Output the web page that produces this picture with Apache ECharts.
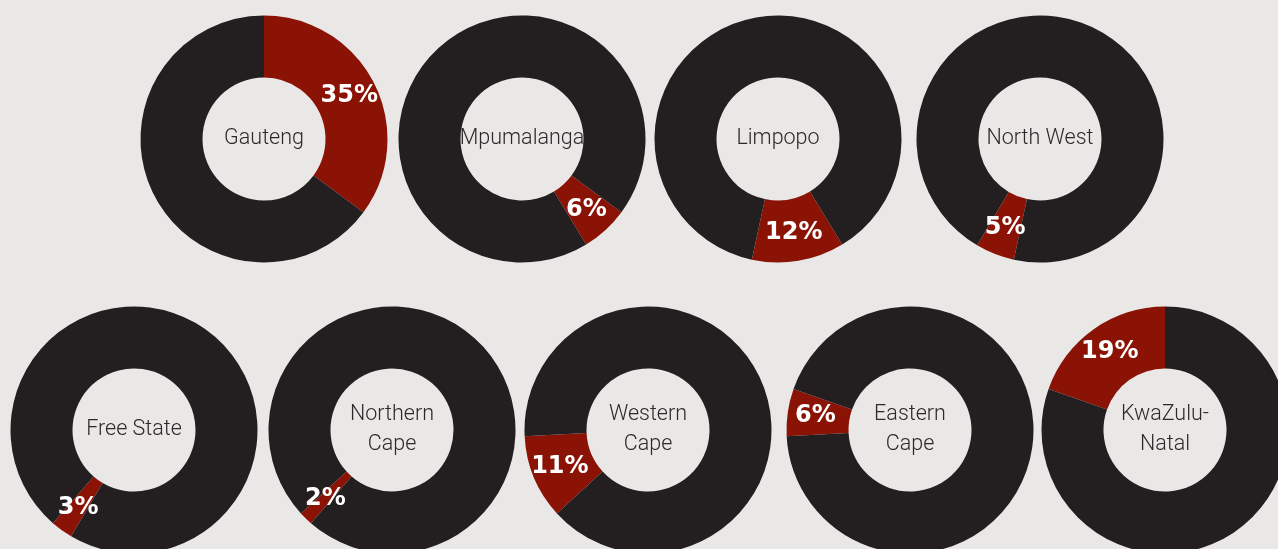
<!DOCTYPE html>
<html>
<head>
<meta charset="utf-8">
<script src="https://cdn.jsdelivr.net/npm/echarts@6/dist/echarts.min.js"></script>
<style>
html,body{margin:0;padding:0;background:#e9e8e6;}
#chart{width:1278px;height:549px;}
</style>
</head>
<body>
<div id="chart"></div>
<script>
// Province names (as printed in the donut holes)
const provinces = ['Gauteng','Mpumalanga','Limpopo','North West','Free State','Northern Cape','Western Cape','Eastern Cape','KwaZulu-Natal'];
const centerLabels = ['Gauteng','Mpumalanga','Limpopo','North West','Free State','Northern\nCape','Western\nCape','Eastern\nCape','KwaZulu-\nNatal'];
// Share of the national total drawn for each province (%)
const shares = [35.1, 6.2, 12.1, 5.1, 2.9, 1.8, 11.0, 6.2, 19.6];
// Percentages as printed on the red slices
const printedPct = [35, 6, 12, 5, 3, 2, 11, 6, 19];

// layout (positions only)
const centers = [[264,139],[522,139],[778,139],[1040,139],[134,430],[392,430],[648,430],[910,430],[1165,430]];
const RED = '#8b1306', DARK = '#231f20', BG = '#e9e8e6';

const series = [];
let cum = 0;
provinces.forEach((p, i) => {
  const start = 90 - cum * 3.6;
  cum += shares[i];
  series.push({
    type: 'pie',
    name: p,
    center: centers[i],
    radius: [61.5, 123.5],
    startAngle: start,
    clockwise: true,
    avoidLabelOverlap: false,
    silent: true,
    emphasis: {disabled: true},
    labelLine: {show: false},
    itemStyle: {borderWidth: 0},
    data: [
      {
        name: p + ' share',
        value: shares[i],
        itemStyle: {color: RED},
        label: {
          show: true, position: 'inside',
          formatter: printedPct[i] + '%',
          color: '#ffffff', fontFamily: 'DejaVu Sans', fontWeight: 'bold', fontSize: 24
        }
      },
      {
        name: p,
        value: 100 - shares[i],
        itemStyle: {color: DARK},
        label: {
          show: true, position: 'center',
          formatter: centerLabels[i],
          color: '#2b2929', fontFamily: 'Roboto, sans-serif',
          fontWeight: 300, fontSize: 21.5, lineHeight: 30
        }
      }
    ]
  });
});

const chart = echarts.init(document.getElementById('chart'), null, {renderer: 'canvas'});
chart.setOption({
  backgroundColor: BG,
  animation: false,
  series: series
});
</script>
</body>
</html>
